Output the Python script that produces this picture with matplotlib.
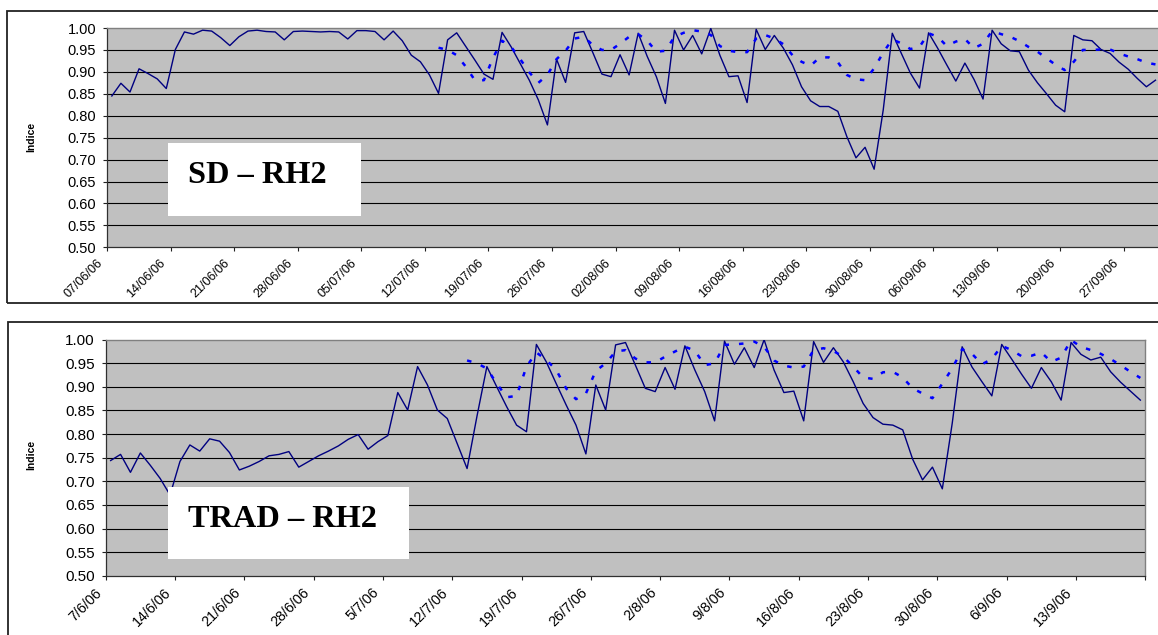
import numpy as np
import pandas as pd
import matplotlib
matplotlib.use("Agg")
import matplotlib.pyplot as plt
from matplotlib.patches import Rectangle
from matplotlib.ticker import FormatStrFormatter
from matplotlib.transforms import ScaledTranslation

plt.rcParams["font.family"] = ["Liberation Sans", "DejaVu Sans"]

# daily index values, first value is 07/06/06
sd_start = "2006-06-07"
sd_index = [
    0.845, 0.874, 0.854, 0.907, 0.896, 0.884, 0.862, 0.951, 0.991, 0.986,
    0.995, 0.993, 0.978, 0.960, 0.980, 0.993, 0.995, 0.992, 0.991, 0.973,
    0.992, 0.993, 0.992, 0.991, 0.992, 0.991, 0.975, 0.994, 0.994, 0.992,
    0.973, 0.993, 0.971, 0.938, 0.923, 0.893, 0.851, 0.973, 0.989, 0.958,
    0.927, 0.895, 0.883, 0.990, 0.957, 0.919, 0.881, 0.836, 0.779, 0.929,
    0.876, 0.989, 0.992, 0.944, 0.895, 0.889, 0.939, 0.893, 0.988, 0.935,
    0.889, 0.828, 0.995, 0.950, 0.983, 0.941, 0.999, 0.938, 0.889, 0.891,
    0.830, 0.997, 0.951, 0.983, 0.954, 0.916, 0.866, 0.834, 0.821, 0.821,
    0.810, 0.752, 0.704, 0.728, 0.678, 0.813, 0.988, 0.942, 0.897, 0.863,
    0.989, 0.954, 0.916, 0.879, 0.920, 0.883, 0.838, 0.995, 0.964, 0.948,
    0.946, 0.904, 0.875, 0.850, 0.824, 0.809, 0.983, 0.973, 0.971, 0.951,
    0.942, 0.922, 0.906, 0.885, 0.866, 0.881,
]
# dotted series starts later
sd_smooth_start = "2006-07-13"
sd_smooth = [
    0.955, 0.950, 0.938, 0.912, 0.881, 0.881, 0.932, 0.971, 0.957, 0.929,
    0.899, 0.875, 0.893, 0.929, 0.948, 0.976, 0.980, 0.961, 0.950, 0.950,
    0.964, 0.980, 0.986, 0.971, 0.946, 0.948, 0.980, 0.989, 0.995, 0.992,
    0.984, 0.959, 0.948, 0.945, 0.945, 0.976, 0.984, 0.976, 0.963, 0.938,
    0.923, 0.914, 0.933, 0.933, 0.922, 0.893, 0.883, 0.881, 0.908, 0.944,
    0.974, 0.965, 0.952, 0.957, 0.988, 0.980, 0.959, 0.969, 0.975, 0.954,
    0.964, 0.993, 0.986, 0.980, 0.970, 0.957, 0.946, 0.931, 0.916, 0.904,
    0.923, 0.950, 0.950, 0.951, 0.951, 0.942, 0.935, 0.929, 0.921, 0.917,
]
sd_end = "2006-10-01"
sd_ticklabels = [
    "07/06/06", "14/06/06", "21/06/06", "28/06/06", "05/07/06", "12/07/06",
    "19/07/06", "26/07/06", "02/08/06", "09/08/06", "16/08/06", "23/08/06",
    "30/08/06", "06/09/06", "13/09/06", "20/09/06", "27/09/06",
]

trad_start = "2006-06-07"
trad_index = [
    0.744, 0.757, 0.719, 0.760, 0.734, 0.706, 0.671, 0.742, 0.777, 0.764,
    0.790, 0.785, 0.761, 0.724, 0.732, 0.742, 0.754, 0.757, 0.763, 0.730,
    0.742, 0.754, 0.764, 0.775, 0.789, 0.799, 0.768, 0.784, 0.797, 0.888,
    0.851, 0.943, 0.904, 0.851, 0.833, 0.780, 0.727, 0.838, 0.943, 0.900,
    0.858, 0.819, 0.805, 0.990, 0.953, 0.907, 0.862, 0.819, 0.758, 0.904,
    0.851, 0.989, 0.994, 0.946, 0.897, 0.890, 0.941, 0.895, 0.987, 0.936,
    0.890, 0.828, 0.997, 0.948, 0.983, 0.941, 1.000, 0.936, 0.888, 0.891,
    0.828, 0.996, 0.952, 0.983, 0.953, 0.911, 0.865, 0.835, 0.821, 0.819,
    0.809, 0.747, 0.703, 0.730, 0.684, 0.823, 0.985, 0.942, 0.911, 0.881,
    0.990, 0.959, 0.927, 0.897, 0.941, 0.911, 0.872, 0.994, 0.969, 0.957,
    0.963, 0.932, 0.910, 0.891, 0.872,
]
trad_smooth_start = "2006-07-13"
trad_smooth = [
    0.956, 0.950, 0.939, 0.907, 0.878, 0.881, 0.943, 0.973, 0.957, 0.936,
    0.897, 0.874, 0.886, 0.934, 0.950, 0.975, 0.978, 0.960, 0.952, 0.952,
    0.964, 0.975, 0.985, 0.977, 0.946, 0.950, 0.989, 0.990, 0.992, 0.996,
    0.985, 0.956, 0.945, 0.941, 0.943, 0.978, 0.982, 0.976, 0.964, 0.943,
    0.920, 0.917, 0.931, 0.932, 0.920, 0.897, 0.886, 0.876, 0.907, 0.939,
    0.980, 0.970, 0.948, 0.959, 0.987, 0.978, 0.965, 0.966, 0.973, 0.953,
    0.962, 0.999, 0.985, 0.978, 0.970, 0.959, 0.946, 0.932, 0.919,
]
trad_end = "2006-09-20"
trad_ticklabels = [
    "7/6/06", "14/6/06", "21/6/06", "28/6/06", "5/7/06", "12/7/06",
    "19/7/06", "26/7/06", "2/8/06", "9/8/06", "16/8/06", "23/8/06",
    "30/8/06", "6/9/06", "13/9/06", "",
]

W, H = 1158, 635
fig = plt.figure(figsize=(W / 100, H / 100), dpi=100)
fig.patch.set_facecolor("white")


def px_axes(left, top, right, bottom):
    return fig.add_axes([left / W, 1 - bottom / H, (right - left) / W, (bottom - top) / H])


def daily(start, values):
    # points sit in the middle of each day slot
    return (pd.date_range(start, periods=len(values)) + pd.Timedelta(hours=12)).to_numpy()


def draw_panel(ax, start, end, index, smooth_start, smooth, ticklabels, xsize, ysize):
    ax.set_facecolor("#c0c0c0")
    ax.set_ylim(0.5, 1.0)
    yt = np.round(np.arange(0.50, 1.001, 0.05), 2)
    ax.set_yticks(yt)
    ax.yaxis.set_major_formatter(FormatStrFormatter("%.2f"))
    for y in yt[1:-1]:
        ax.axhline(y, color="black", lw=0.8, zorder=1)

    ax.plot(daily(start, index), index, color="#000080", lw=1.0, zorder=3)
    ax.plot(daily(smooth_start, smooth), smooth, color="#0000ff", lw=1.8,
            linestyle=(0, (1.8, 4.0)), dash_capstyle="butt", zorder=3)

    ax.set_xlim(pd.Timestamp(start), pd.Timestamp(end))
    ticks = pd.date_range(start, periods=len(ticklabels), freq="7D").to_numpy()
    ax.set_xticks(ticks)
    ax.set_xticklabels(ticklabels, rotation=45, ha="right", va="top",
                       rotation_mode="anchor", fontsize=xsize)
    ax.tick_params(axis="x", length=2.6, width=0.8, pad=4.5, color="#202020")
    ax.tick_params(axis="y", length=2.9, width=0.8, pad=5.0, labelsize=ysize,
                   color="#202020")
    shift = ScaledTranslation(-11 / 100, 0, fig.dpi_scale_trans)
    for lbl in ax.get_xticklabels():
        lbl.set_transform(lbl.get_transform() + shift)

    for side in ("top", "right"):
        ax.spines[side].set_color("#808080")
        ax.spines[side].set_linewidth(1.0)
    for side in ("left", "bottom"):
        ax.spines[side].set_color("#303030")
        ax.spines[side].set_linewidth(0.9)


# frames around each chart
fig.add_artist(Rectangle((7.5 / W, 1 - 303.3 / H), 1.2, (303.3 - 11) / H,
                         transform=fig.transFigure, fill=False,
                         edgecolor="#222222", lw=1.3))
fig.add_artist(Rectangle((7.7 / W, -0.2), 1.2, 0.2 + (635 - 322.3) / H,
                         transform=fig.transFigure, fill=False,
                         edgecolor="#222222", lw=1.3))

ax_sd = px_axes(107.3, 28, 1160, 247.3)
draw_panel(ax_sd, sd_start, sd_end, sd_index, sd_smooth_start, sd_smooth,
           sd_ticklabels, 9, 10.5)

ax_trad = px_axes(105.7, 339.7, 1145.3, 575.7)
draw_panel(ax_trad, trad_start, trad_end, trad_index, trad_smooth_start, trad_smooth,
           trad_ticklabels, 10.3, 11)

for cy in (137, 455):
    fig.text(31 / W, 1 - cy / H, "Indice", rotation=90, ha="center", va="center",
             fontsize=7.5, fontweight="bold")

# white title boxes
boxes = [
    (167.7, 142.7, 361, 216, "SD – RH2", 183.3),
    (167.7, 486.7, 409, 559, "TRAD – RH2", 526.7),
]
for x0, y0, x1, y1, title, base in boxes:
    fig.add_artist(Rectangle((x0 / W, 1 - y1 / H), (x1 - x0) / W, (y1 - y0) / H,
                             transform=fig.transFigure, facecolor="white",
                             edgecolor="none", zorder=5))
    fig.text(188 / W, 1 - base / H, title, ha="left", va="baseline",
             family=["Liberation Serif", "DejaVu Serif"], fontweight="bold",
             fontsize=23.3, zorder=6)

fig.savefig("out.png", dpi=100, facecolor="white")
